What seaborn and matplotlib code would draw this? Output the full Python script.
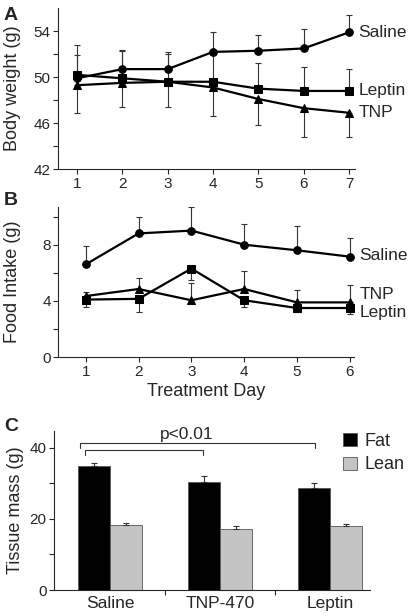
import matplotlib
matplotlib.use("Agg")
import matplotlib.pyplot as plt
import numpy as np
import pandas as pd
import seaborn as sns

sns.set_style("ticks")
plt.rcParams["font.family"] = ["Liberation Sans", "DejaVu Sans"]

groups = ["Saline", "Leptin", "TNP"]
markers = {"Saline": "o", "Leptin": "s", "TNP": "^"}

# panel A: body weight (g)
days_a = [1, 2, 3, 4, 5, 6, 7]
weight_saline = [49.9, 50.7, 50.7, 52.2, 52.3, 52.5, 53.9]
weight_leptin = [50.2, 49.9, 49.6, 49.6, 49.0, 48.8, 48.8]
weight_tnp = [49.3, 49.5, 49.6, 49.1, 48.1, 47.3, 46.9]
weight_saline_up = [2.0, 1.7, 1.5, 1.7, 1.4, 1.7, 1.5]
weight_leptin_up = [2.6, 2.4, 2.4, 2.35, 2.25, 2.1, 1.9]
weight_tnp_down = [2.4, 2.1, 2.2, 2.5, 2.3, 2.5, 2.1]

# panel B: food intake (g)
days_b = [1, 2, 3, 4, 5, 6]
intake_saline = [6.6, 8.8, 9.0, 8.0, 7.6, 7.15]
intake_leptin = [4.1, 4.15, 6.3, 4.05, 3.5, 3.5]
intake_tnp = [4.35, 4.85, 4.05, 4.85, 3.9, 3.9]
intake_saline_up = [1.3, 1.2, 1.7, 1.5, 1.7, 1.35]
intake_leptin_down = [0.55, 0.9, 0.8, 0.5, 0.3, 0.45]
intake_tnp_up = [0.3, 0.75, 1.2, 1.25, 0.9, 1.25]

# panel C: tissue mass (g)
tissue_groups = ["Saline", "TNP-470", "Leptin"]
fat_mass = [34.8, 30.4, 28.8]
fat_err = [0.9, 1.7, 1.4]
lean_mass = [18.4, 17.1, 18.0]
lean_err = [0.5, 0.9, 0.6]


def style_axis(ax):
    sns.despine(ax=ax)
    for side in ["left", "bottom"]:
        ax.spines[side].set_linewidth(0.8)
    ax.tick_params(which="both", direction="out", length=3.5, width=0.8, labelsize=11, pad=2)


def draw_series(ax, days, series, lower, upper):
    for name in groups:
        vals = series[name]
        lo = lower.get(name, [0] * len(vals))
        hi = upper.get(name, [0] * len(vals))
        ax.errorbar(days, vals, yerr=[lo, hi], fmt="none", ecolor="#333333",
                    elinewidth=0.8, capsize=2.5, capthick=0.8, zorder=1)
        sns.lineplot(x=days, y=vals, ax=ax, color="black", linewidth=1.6,
                     marker=markers[name], markersize=6 if name == "TNP" else 5.5,
                     markeredgecolor="black", zorder=3)


fig = plt.figure(figsize=(4.1, 6.16), dpi=100)

# ---- A
ax_a = fig.add_axes([0.1415, 0.7256, 0.724, 0.261])
series_a = {"Saline": weight_saline, "Leptin": weight_leptin, "TNP": weight_tnp}
draw_series(ax_a, days_a, series_a,
            {"TNP": weight_tnp_down},
            {"Saline": weight_saline_up, "Leptin": weight_leptin_up})
ax_a.set_xlim(0.58, 7.13)
ax_a.set_ylim(42, 56)
ax_a.set_xticks(days_a)
ax_a.set_yticks([42, 46, 50, 54])
ax_a.set_yticks([44, 48, 52], minor=True)
ax_a.set_ylabel("Body weight (g)", fontsize=13)
ax_a.yaxis.set_label_coords(-0.125, 0.5)
style_axis(ax_a)
for name in groups:
    ax_a.annotate(name, xy=(days_a[-1], series_a[name][-1]), xytext=(7, 0),
                  textcoords="offset points", va="center", ha="left", fontsize=12.5)

# ---- B
ax_b = fig.add_axes([0.1422, 0.42, 0.7212, 0.2445])
series_b = {"Saline": intake_saline, "Leptin": intake_leptin, "TNP": intake_tnp}
draw_series(ax_b, days_b, series_b,
            {"Leptin": intake_leptin_down},
            {"Saline": intake_saline_up, "TNP": intake_tnp_up})
ax_b.set_xlim(0.48, 6.08)
ax_b.set_ylim(0, 10.7)
ax_b.set_xticks(days_b)
ax_b.set_yticks([0, 4, 8])
ax_b.set_yticks([2, 6, 10], minor=True)
ax_b.set_xlabel("Treatment Day", fontsize=13, labelpad=3)
ax_b.set_ylabel("Food Intake (g)", fontsize=13)
ax_b.yaxis.set_label_coords(-0.127, 0.5)
style_axis(ax_b)
label_y_b = {"Saline": 7.2, "TNP": 4.45, "Leptin": 3.15}
for name in groups:
    ax_b.annotate(name, xy=(days_b[-1], label_y_b[name]), xytext=(7, 0),
                  textcoords="offset points", va="center", ha="left", fontsize=12.5)

# ---- C
ax_c = fig.add_axes([0.1324, 0.0422, 0.77, 0.2586])
tissue_df = pd.DataFrame({
    "group": tissue_groups * 2,
    "tissue": ["Fat"] * 3 + ["Lean"] * 3,
    "mass": fat_mass + lean_mass,
    "err": fat_err + lean_err,
})
sns.barplot(data=tissue_df, x="group", y="mass", hue="tissue", order=tissue_groups,
            palette={"Fat": "black", "Lean": "#c4c4c4"}, width=0.58,
            edgecolor="#555555", linewidth=0.6, errorbar=None, ax=ax_c)
for container, tissue in zip(ax_c.containers, ["Fat", "Lean"]):
    sub = tissue_df[tissue_df["tissue"] == tissue]
    xs = [p.get_x() + p.get_width() / 2 for p in container.patches]
    ax_c.errorbar(xs, sub["mass"], yerr=[np.zeros(len(sub)), sub["err"]], fmt="none",
                  ecolor="#333333", elinewidth=0.8, capsize=2.5, capthick=0.8, zorder=1)
ax_c.set_xlim(-0.506, 2.36)
ax_c.set_ylim(0, 44.8)
ax_c.set_yticks([0, 20, 40])
ax_c.set_yticks([10, 30], minor=True)
ax_c.set_xticks([0.5, 1.5], minor=True)
ax_c.set_xlabel("")
ax_c.set_ylabel("Tissue mass (g)", fontsize=13)
ax_c.yaxis.set_label_coords(-0.097, 0.5)
style_axis(ax_c)
ax_c.tick_params(axis="x", which="major", length=0, labelsize=12.5, pad=4)
ax_c.legend(title=None, frameon=False, loc="upper left", bbox_to_anchor=(0.915, 0.985),
            borderaxespad=0, borderpad=0, handlelength=0.75, handleheight=0.75,
            handletextpad=0.45, labelspacing=0.35, fontsize=13)

# significance brackets
bracket_color = "#333333"
ax_c.plot([-0.273, -0.273, 1.857, 1.857], [39.9, 41.3, 41.3, 39.9], color=bracket_color,
          lw=0.8, clip_on=False)
ax_c.plot([-0.227, -0.227, 0.843, 0.843], [37.9, 39.3, 39.3, 37.9], color=bracket_color,
          lw=0.8, clip_on=False)
ax_c.text(0.697, 43.6, "p<0.01", ha="center", va="center", fontsize=12.5, clip_on=False)

# panel letters
for letter, ytop in [("A", 7), ("B", 192), ("C", 418)]:
    fig.text(4 / 410, 1 - ytop / 616, letter, fontsize=14, fontweight="bold", va="top", ha="left")

fig.savefig("out.png", dpi=100)
